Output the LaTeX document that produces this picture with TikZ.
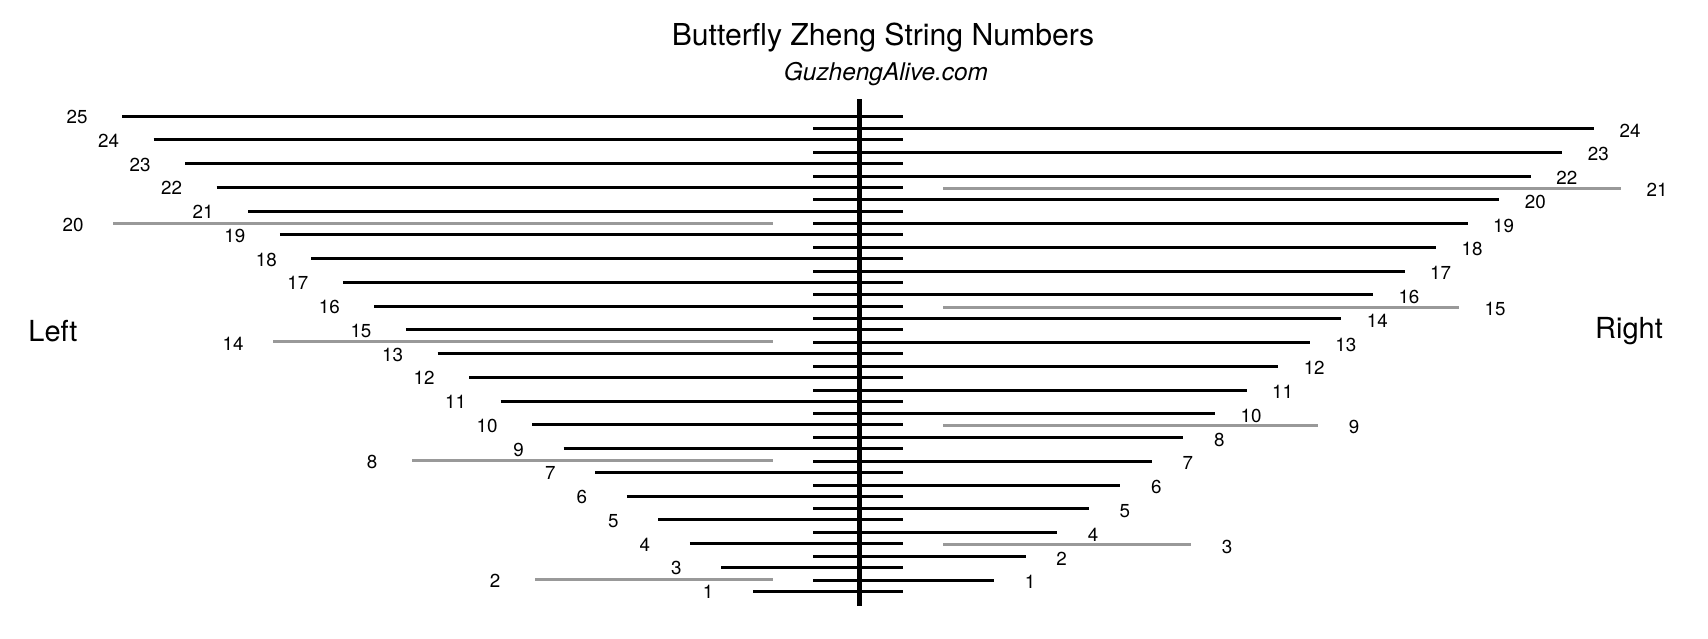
\documentclass[tikz,border=0pt]{standalone}
\usepackage{fontspec}
\setmainfont{TeX Gyre Heros}
\usepackage{xcolor}
\usepackage{tikz}
\usetikzlibrary{positioning}
\definecolor{stringgrey}{HTML}{999999}

\begin{document}
\begin{tikzpicture}[x=0.5pt,y=-0.5pt,
    string/.style={line width=1.5pt, black},
    greystring/.style={line width=1.5pt, stringgrey},
    num/.style={inner sep=0pt, font=\fontsize{9.4}{10}\selectfont}]
        \useasboundingbox (0,0) rectangle (1708,638);
        % Titulo
        \node (title) at (883,38) {\fontsize{15.1}{17}\selectfont Butterfly Zheng String Numbers};
        \node (site) at (886,74) {\fontsize{12.2}{14}\selectfont\itshape GuzhengAlive.com};
        \node (left) at (53,331) {\fontsize{14.5}{16}\selectfont Left};
        \node (right) at (1629,331) {\fontsize{14.5}{16}\selectfont Right};
        % Puente central
        \draw[line width=2.5pt] (859,99) -- (859,606);
        % Cuerdas izquierdas
        \foreach \n [count=\i from 0, evaluate=\i as \ly using 116+23.75*\i,
                     evaluate=\i as \lx using 122+31.55*\i]
            in {25,24,23,22,21,19,18,17,16,15,13,12,11,10,9,7,6,5,4,3,1} {
            \draw[string] (\lx,\ly) -- (903,\ly);
            \node[num] at (\lx-45,\ly+1) {\n};
        }
        \foreach \n/\x/\y in {20/113/223, 14/273/341.5, 8/412/460.4, 2/535/579} {
            \draw[greystring] (\x,\y) -- (773,\y);
            \node[num] at (\x-40,\y+2) {\n};
        }
        % Cuerdas derechas
        \foreach \n [count=\j from 0, evaluate=\j as \ry using 128.5+23.78*\j,
                     evaluate=\j as \rx using 1594-31.58*\j]
            in {24,23,22,20,19,18,17,16,14,13,12,11,10,8,7,6,5,4,2,1} {
            \draw[string] (813,\ry) -- (\rx,\ry);
            \node[num] at (\rx+36,\ry+2) {\n};
        }
        \foreach \n/\x/\y in {21/1621/188, 15/1459/307, 9/1318/425, 3/1191/544.5} {
            \draw[greystring] (943,\y) -- (\x,\y);
            \node[num] at (\x+36,\y+2) {\n};
        }
    \end{tikzpicture}
\end{document}
